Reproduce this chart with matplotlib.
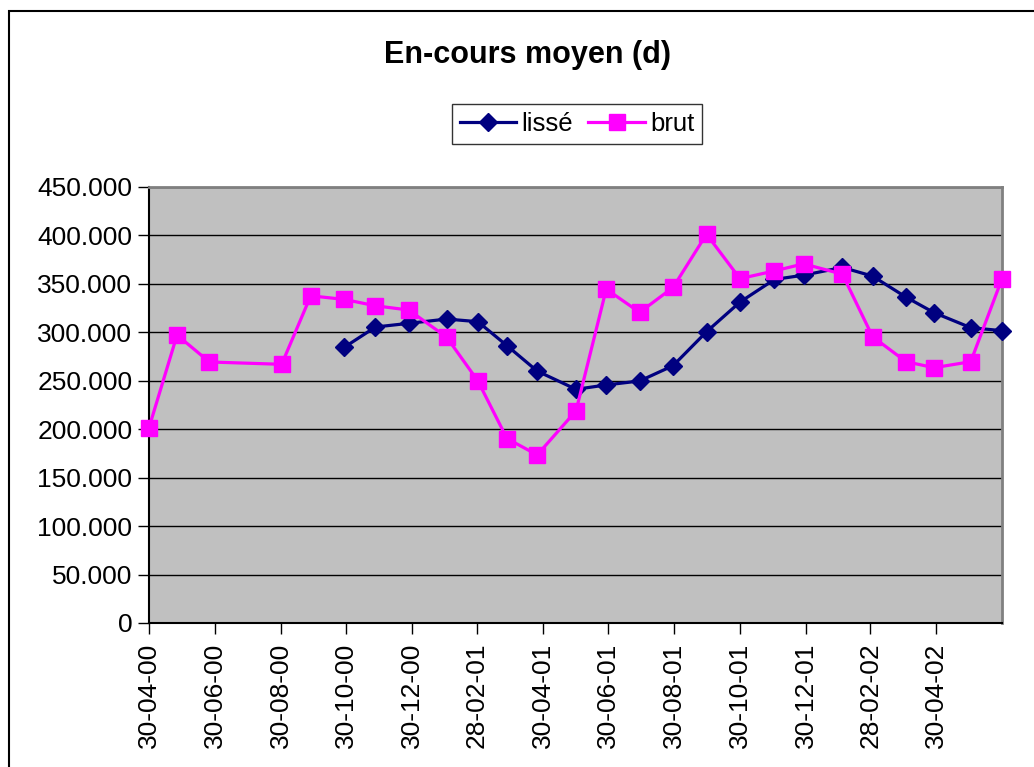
import matplotlib
matplotlib.use("Agg")
import matplotlib.pyplot as plt
import numpy as np
import pandas as pd
from matplotlib.patches import Rectangle
from matplotlib.ticker import FuncFormatter, MultipleLocator

plt.rcParams["font.family"] = ["Liberation Sans", "DejaVu Sans"]

# --- data ---
dates = [
    "2000-04-30", "2000-05-26", "2000-06-25", "2000-08-31", "2000-09-27",
    "2000-10-28", "2000-11-26", "2000-12-27", "2001-01-31", "2001-03-01",
    "2001-03-28", "2001-04-25", "2001-05-31", "2001-06-28", "2001-07-29",
    "2001-08-29", "2001-09-29", "2001-10-30", "2001-12-01", "2001-12-28",
    "2002-02-02", "2002-03-02", "2002-04-02", "2002-04-28", "2002-06-01",
    "2002-06-30",
]
brut = [
    201600, 297200, 269400, 267000, 337700,
    334000, 327400, 323000, 295000, 249800,
    190300, 173500, 219000, 344600, 320600,
    346400, 401300, 355400, 363400, 370700,
    360000, 295500, 269700, 263500, 269700,
    355300,
]
lisse = [
    None, None, None, None, None,
    284500, 305500, 309300, 313700, 311000,
    286200, 260000, 241200, 245700, 249800,
    265600, 300600, 331200, 354600, 359000,
    367000, 358000, 336300, 320300, 304800,
    301700,
]
tick_labels = [
    "30-04-00", "30-06-00", "30-08-00", "30-10-00", "30-12-00", "28-02-01",
    "30-04-01", "30-06-01", "30-08-01", "30-10-01", "30-12-01", "28-02-02",
    "30-04-02",
]

x = pd.to_datetime(dates)
lisse_arr = np.array([np.nan if v is None else v for v in lisse], dtype=float)
ticks = pd.to_datetime(tick_labels, format="%d-%m-%y")

fig = plt.figure(figsize=(10.34, 7.67), dpi=100)
fig.patches.append(Rectangle((9 / 1034, -0.1), 1.2, 1 - 11 / 767 + 0.1,
                             transform=fig.transFigure, fill=False,
                             edgecolor="black", linewidth=1.5))

ax = fig.add_axes([149 / 1034, 1 - 623 / 767, 853 / 1034, 436 / 767])
ax.set_facecolor("#C0C0C0")

ax.plot(x, lisse_arr, color="#000080", linewidth=2.3, marker="D",
        markersize=9, label="lissé", zorder=3, clip_on=False)
ax.plot(x, brut, color="#FF00FF", linewidth=2.3, marker="s",
        markersize=11.5, label="brut", zorder=4, clip_on=False)

ax.set_ylim(0, 450000)
ax.yaxis.set_major_locator(MultipleLocator(50000))
ax.yaxis.set_major_formatter(FuncFormatter(
    lambda v, _: "0" if v == 0 else f"{int(round(v)):,}".replace(",", ".")))
ax.grid(axis="y", color="black", linewidth=1)
ax.set_axisbelow(True)

ax.set_xlim(pd.Timestamp("2000-04-30"), pd.Timestamp("2002-06-30"))
ax.set_xticks(ticks)
ax.set_xticklabels(tick_labels, rotation=90)

ax.tick_params(axis="both", labelsize=19, length=8, width=1, direction="out",
               pad=4, color="black")
ax.tick_params(axis="x", pad=6)
for side in ("left", "bottom"):
    ax.spines[side].set_color("black")
    ax.spines[side].set_linewidth(1.5)
for side in ("top", "right"):
    ax.spines[side].set_color("#808080")
    ax.spines[side].set_linewidth(2)

fig.text(528 / 1034, 1 - 55 / 767, "En-cours moyen (d)", ha="center",
         va="center", fontsize=22, fontweight="bold")

leg = fig.legend(loc="center", bbox_to_anchor=(577 / 1034, 1 - 124 / 767),
                 ncol=2, fontsize=18.5, frameon=True, fancybox=False,
                 edgecolor="black", handlelength=2.2, handletextpad=0.2,
                 columnspacing=0.6, borderpad=0.3, borderaxespad=0)
leg.get_frame().set_linewidth(1)

fig.savefig("out.png", dpi=100)
